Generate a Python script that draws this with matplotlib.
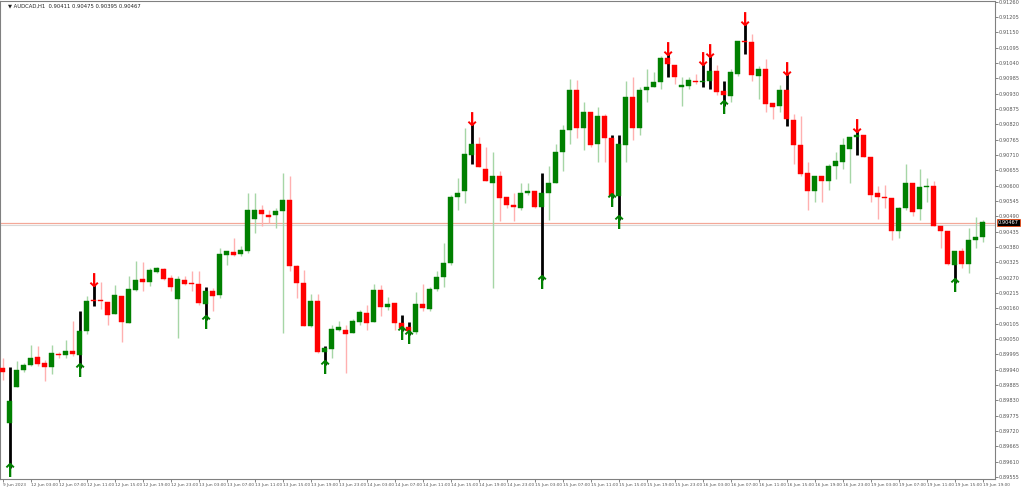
import matplotlib
matplotlib.use("Agg")
import matplotlib.pyplot as plt
import numpy as np

opens = [0.89945,0.89749,0.89877,0.89938,0.89956,0.89985,0.89963,0.89949,0.89995,0.89992,
 0.90006,0.89992,0.90078,0.90191,0.90189,0.90182,0.90139,0.90203,0.90107,0.90225,
 0.90264,0.90253,0.90289,0.90300,0.90268,0.90192,0.90260,0.90250,0.90246,0.90175,
 0.90221,0.90207,0.90350,0.90361,0.90354,0.90364,0.90482,0.90511,0.90493,0.90493,
 0.90508,0.90550,0.90311,0.90250,0.90096,0.90185,0.90003,0.90013,0.90081,0.90081,
 0.90071,0.90110,0.90142,0.90110,0.90225,0.90164,0.90178,0.90107,0.90092,0.90074,
 0.90175,0.90157,0.90228,0.90271,0.90321,0.90558,0.90579,0.90708,0.90748,0.90661,
 0.90611,0.90633,0.90558,0.90529,0.90518,0.90572,0.90579,0.90522,0.90572,0.90611,
 0.90719,0.90801,0.90944,0.90805,0.90865,0.90751,0.90851,0.90772,0.90561,0.90747,
 0.90919,0.90808,0.90944,0.90955,0.90973,0.91059,0.91034,0.90955,0.90959,0.90976,
 0.90973,0.90976,0.91012,0.90941,0.90923,0.91001,0.91120,0.91116,0.90994,0.91019,
 0.90898,0.90887,0.90944,0.90837,0.90744,0.90647,0.90579,0.90633,0.90615,0.90672,
 0.90686,0.90733,0.90776,0.90780,0.90704,0.90572,0.90558,0.90554,0.90436,0.90518,
 0.90608,0.90515,0.90594,0.90597,0.90454,0.90439,0.90314,0.90364,0.90318,0.90404,0.90415]
highs = [0.89981,0.89949,0.89970,0.89963,0.90028,0.90024,0.89974,0.90028,0.90003,0.90046,
 0.90114,0.90150,0.90203,0.90243,0.90253,0.90182,0.90243,0.90203,0.90275,0.90328,
 0.90325,0.90303,0.90307,0.90303,0.90278,0.90275,0.90275,0.90293,0.90293,0.90235,
 0.90232,0.90375,0.90364,0.90411,0.90382,0.90572,0.90572,0.90529,0.90511,0.90518,
 0.90644,0.90636,0.90314,0.90296,0.90210,0.90210,0.90024,0.90099,0.90114,0.90099,
 0.90121,0.90153,0.90171,0.90246,0.90243,0.90200,0.90178,0.90135,0.90110,0.90218,
 0.90246,0.90235,0.90293,0.90396,0.90565,0.90629,0.90805,0.90823,0.90776,0.90737,
 0.90719,0.90651,0.90558,0.90572,0.90608,0.90611,0.90579,0.90644,0.90672,0.90751,
 0.90819,0.90984,0.90980,0.90901,0.90865,0.90883,0.90858,0.90780,0.90780,0.90976,
 0.90991,0.90955,0.91019,0.91009,0.91066,0.91073,0.91034,0.90991,0.90991,0.91001,
 0.91037,0.91066,0.91034,0.90976,0.91019,0.91120,0.91180,0.91145,0.91030,0.91055,
 0.90898,0.90962,0.91001,0.90858,0.90848,0.90686,0.90636,0.90633,0.90679,0.90719,
 0.90769,0.90776,0.90797,0.90780,0.90704,0.90597,0.90604,0.90554,0.90522,0.90679,
 0.90608,0.90661,0.90629,0.90615,0.90454,0.90439,0.90364,0.90375,0.90447,0.90486,0.90475]
lows = [0.89902,0.89587,0.89877,0.89931,0.89953,0.89953,0.89899,0.89924,0.89981,0.89981,
 0.89988,0.89945,0.90067,0.90167,0.90157,0.90099,0.90139,0.90038,0.90107,0.90221,
 0.90221,0.90239,0.90286,0.90260,0.90221,0.90053,0.90243,0.90221,0.90171,0.90117,
 0.90150,0.90196,0.90314,0.90346,0.90346,0.90357,0.90429,0.90454,0.90465,0.90447,
 0.90071,0.90293,0.90196,0.90096,0.90092,0.89999,0.89956,0.89981,0.90078,0.89927,
 0.90071,0.90099,0.90081,0.90110,0.90132,0.90153,0.90081,0.90078,0.90064,0.90067,
 0.90150,0.90150,0.90221,0.90235,0.90314,0.90511,0.90536,0.90679,0.90665,0.90618,
 0.90232,0.90472,0.90518,0.90472,0.90511,0.90565,0.90518,0.90260,0.90475,0.90608,
 0.90651,0.90751,0.90772,0.90726,0.90740,0.90686,0.90686,0.90554,0.90475,0.90686,
 0.90762,0.90783,0.90901,0.90955,0.90948,0.90991,0.90966,0.90887,0.90948,0.90966,
 0.90955,0.90948,0.90926,0.90887,0.90901,0.90994,0.91073,0.90976,0.90912,0.90865,
 0.90840,0.90865,0.90812,0.90679,0.90636,0.90511,0.90543,0.90543,0.90583,0.90622,
 0.90661,0.90608,0.90708,0.90701,0.90543,0.90482,0.90518,0.90404,0.90411,0.90511,
 0.90490,0.90475,0.90543,0.90454,0.90375,0.90314,0.90250,0.90303,0.90285,0.90375,0.90397]
closes = [0.89931,0.89827,0.89938,0.89956,0.89981,0.89960,0.89949,0.89999,0.89992,0.90006,
 0.89995,0.90078,0.90185,0.90187,0.90185,0.90135,0.90207,0.90110,0.90228,0.90260,
 0.90253,0.90296,0.90303,0.90264,0.90235,0.90264,0.90246,0.90246,0.90178,0.90221,
 0.90203,0.90354,0.90364,0.90350,0.90368,0.90511,0.90511,0.90497,0.90486,0.90508,
 0.90550,0.90311,0.90250,0.90096,0.90185,0.90003,0.90017,0.90085,0.90092,0.90067,
 0.90114,0.90146,0.90107,0.90225,0.90164,0.90175,0.90107,0.90089,0.90078,0.90175,
 0.90160,0.90228,0.90271,0.90321,0.90558,0.90575,0.90712,0.90748,0.90665,0.90618,
 0.90633,0.90554,0.90529,0.90522,0.90572,0.90579,0.90522,0.90575,0.90611,0.90719,
 0.90801,0.90944,0.90805,0.90865,0.90744,0.90851,0.90769,0.90561,0.90751,0.90919,
 0.90808,0.90944,0.90955,0.90973,0.91059,0.91037,0.90991,0.90962,0.90980,0.90973,
 0.90976,0.91012,0.90937,0.90926,0.91009,0.91120,0.91116,0.90998,0.91019,0.90894,
 0.90883,0.90944,0.90840,0.90744,0.90640,0.90579,0.90636,0.90615,0.90672,0.90690,
 0.90747,0.90776,0.90780,0.90704,0.90568,0.90558,0.90554,0.90439,0.90518,0.90608,
 0.90507,0.90594,0.90597,0.90454,0.90436,0.90318,0.90364,0.90318,0.90404,0.90415,0.90468]
buy_signals = [1, 11, 29, 46, 57, 58, 77, 87, 88, 103, 136]
sell_signals = [13, 67, 95, 100, 101, 106, 112, 122]
days = ["12 Jun", "13 Jun", "14 Jun", "15 Jun", "16 Jun", "19 Jun"]
hours = ["03:00", "07:00", "11:00", "15:00", "19:00", "23:00"]
tick_labels = ["9 Jun 2023"] + [f"{d} {h}" for d in days for h in hours][:35]
last_price = 0.90467
title = "AUDCAD,H1  0.90411 0.90475 0.90395 0.90467"

W, H = 1024, 488
fig = plt.figure(figsize=(W/100, H/100), dpi=100)
ax = fig.add_axes([0, 1 - 479/H, 995/W, 478/H])
n = len(opens)
x = np.arange(n)
GREEN, RED = "#008000", "#ff0000"
for i in x:
    o, h, l, c = opens[i], highs[i], lows[i], closes[i]
    up = c >= o
    sig = i in buy_signals or i in sell_signals
    wc = "black" if sig else ("#a6d6a6" if up else "#ffb0b0")
    ax.vlines(i, l, h, color=wc, lw=2.0 if sig else 1.0, zorder=2)
    bc = GREEN if up else RED
    bh = max(abs(c - o), 0.000012)
    ax.bar(i, bh, bottom=min(o, c), width=0.72, color=bc, edgecolor=bc, lw=0.3, zorder=3)
for i in buy_signals:
    ax.text(i, lows[i] - 0.00012, "\u2191", color=GREEN, fontsize=14, fontweight="bold",
            ha="center", va="center", zorder=4)
for i in sell_signals:
    ax.text(i, highs[i] + 0.00012, "\u2193", color=RED, fontsize=14, fontweight="bold",
            ha="center", va="center", zorder=4)

ax.axhline(last_price, color="#f4a898", lw=0.9, zorder=1)
ax.axhline(last_price - 0.00010, color="#d8d8d8", lw=0.8, zorder=1)

ax.set_xlim(-0.386, 141.76)
ax.set_ylim(0.89548, 0.91262)
yt = [round(0.89555 + 0.00055 * k, 5) for k in range(32)]
ax.yaxis.tick_right()
ax.set_yticks(yt)
ax.set_yticklabels([f"{v:.5f}" for v in yt], fontsize=3.6, color="#333333")
ax.set_xticks(x[::4])
ax.set_xticklabels(tick_labels, fontsize=3.1, color="#333333", ha="left")
ax.tick_params(axis="both", length=2, width=0.5, colors="#555555", pad=0.8)
for s in ax.spines.values():
    s.set_color("#808080")
    s.set_linewidth(0.8)
ax.text(1.003, last_price, f"{last_price:.5f}", transform=ax.get_yaxis_transform(),
        fontsize=3.6, color="white", va="center", ha="left",
        bbox=dict(boxstyle="square,pad=0.15", fc="black", ec="#ff4000", lw=0.5))
fig.text(8/W, 1 - 6/H, "\u25bc " + title, fontsize=3.8, color="#222222", va="center")
fig.savefig("out.png", dpi=100)
